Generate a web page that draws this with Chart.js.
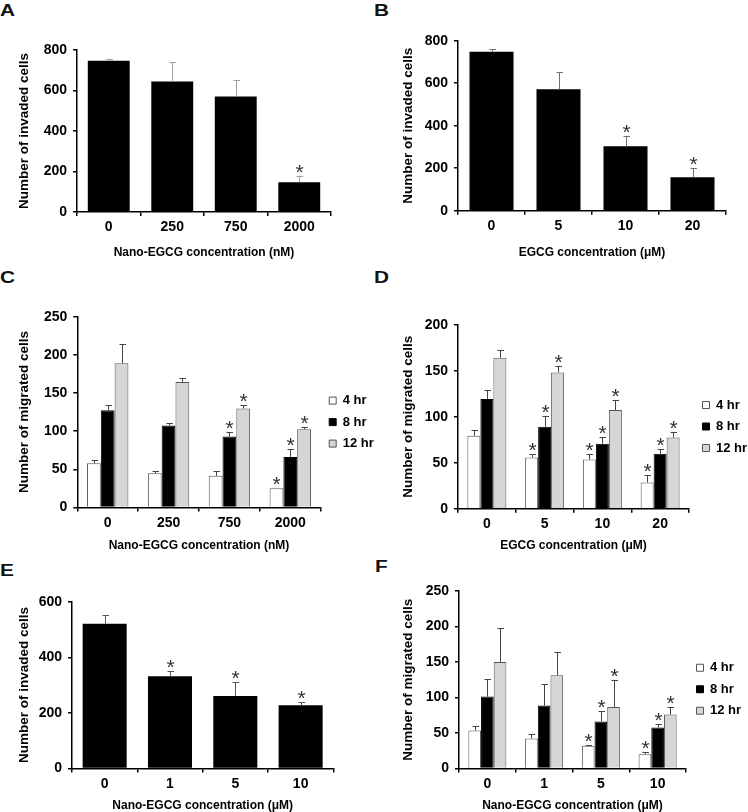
<!DOCTYPE html>
<html><head><meta charset="utf-8">
<script src="https://cdn.jsdelivr.net/npm/chart.js@4"></script>
<style>
html,body{margin:0;padding:0;width:748px;height:812px;overflow:hidden;background:#fff;}
canvas{position:absolute;}
.lab{position:absolute;font-family:"Liberation Sans",Arial,sans-serif;font-weight:bold;font-size:16px;line-height:16px;color:#111;transform:scaleX(1.3);transform-origin:0 0;}
</style></head><body>
<div class="lab" style="left:0px;top:3px">A</div>
<div class="lab" style="left:374px;top:3px">B</div>
<div class="lab" style="left:0px;top:269.5px">C</div>
<div class="lab" style="left:374px;top:269.5px">D</div>
<div class="lab" style="left:0px;top:563px">E</div>
<div class="lab" style="left:375px;top:558.5px">F</div>
<canvas id="cA"></canvas>
<canvas id="cB"></canvas>
<canvas id="cC"></canvas>
<canvas id="cD"></canvas>
<canvas id="cE"></canvas>
<canvas id="cF"></canvas>
<script>
// ---------------- data ----------------
const seriesNames = ['4 hr', '8 hr', '12 hr'];

// Panel A
const catsA = ['0', '250', '750', '2000'];
const valsA = [747, 645, 570, 147];
const errA  = [10, 94, 80, 29];
const sigA  = [0, 0, 0, 1];
const yTicksA = [0, 200, 400, 600, 800];

// Panel B
const catsB = ['0', '5', '10', '20'];
const valsB = [748, 571, 303, 157];
const errB  = [11, 82, 47, 43];
const sigB  = [0, 0, 1, 1];
const yTicksB = [0, 200, 400, 600, 800];

// Panel C
const catsC = ['0', '250', '750', '2000'];
const c4  = [58, 45, 41.5, 25.3];
const c4Err = [4, 2.7, 6.2, 0];
const c4Sig = [0, 0, 0, 1];
const c8  = [127.4, 107.3, 92.9, 66.3];
const c8Err = [7.4, 3.5, 5.7, 10.5];
const c8Sig = [0, 0, 1, 1];
const c12 = [188.9, 164.5, 129.6, 102.5];
const c12Err = [25.8, 5.7, 5.2, 3.5];
const c12Sig = [0, 0, 1, 1];
const yTicksC = [0, 50, 100, 150, 200, 250];

// Panel D
const catsD = ['0', '5', '10', '20'];
const d4  = [79.3, 55.8, 53.6, 28.6];
const d4Err = [5.8, 3.6, 6.2, 7.6];
const d4Sig = [0, 1, 1, 1];
const d8  = [119.2, 89.1, 70.7, 59.8];
const d8Err = [9.4, 12, 7.6, 4.7];
const d8Sig = [0, 1, 1, 1];
const d12 = [164.1, 148.2, 107.2, 77.5];
const d12Err = [8, 6.9, 10.6, 6.2];
const d12Sig = [0, 1, 1, 1];
const yTicksD = [0, 50, 100, 150, 200];

// Panel E
const catsE = ['0', '1', '5', '10'];
const valsE = [521, 332, 261, 227.5];
const errE  = [31, 18, 49, 12];
const sigE  = [0, 1, 1, 1];
const yTicksE = [0, 200, 400, 600];

// Panel F
const catsF = ['0', '1', '5', '10'];
const f4  = [53.4, 42.2, 31.9, 20.2];
const f4Err = [6.1, 6.6, 0.9, 3.7];
const f4Sig = [0, 0, 1, 1];
const f8  = [101.3, 88.6, 66.1, 57.7];
const f8Err = [24.3, 30, 15.5, 5.1];
const f8Sig = [0, 0, 1, 1];
const f12 = [150, 131.3, 86.7, 75.9];
const f12Err = [47.4, 32.3, 38.5, 10.4];
const f12Sig = [0, 0, 1, 1];
const yTicksF = [0, 50, 100, 150, 200, 250];

const yInvaded = 'Number of invaded cells';
const yMigrated = 'Number of migrated cells';

// ---------------- styling / helpers ----------------
const FONT = '"Liberation Sans", Arial, Helvetica, sans-serif';
const FILL = ['#ffffff', '#000000', '#d6d6d6'];
const EDGE = ['#555555', '#000000', '#555555'];

function single(vals, err, sig) {
  return [{label: 'cells', data: vals, errors: err, sig: sig, yAxisID: 'y',
           backgroundColor: '#000', borderColor: '#000', borderWidth: 0}];
}
function triple(v4, e4, s4, v8, e8, s8, v12, e12, s12) {
  const v = [v4, v8, v12], e = [e4, e8, e12], s = [s4, s8, s12];
  return seriesNames.map((n, i) => ({label: n, data: v[i], errors: e[i], sig: s[i], yAxisID: 'y',
    backgroundColor: FILL[i], borderColor: EDGE[i], borderWidth: 1, borderSkipped: 'start'}));
}

const errPlugin = {
  id: 'errbars',
  afterDatasetsDraw(chart, args, opts) {
    const ctx = chart.ctx, ys = chart.scales.y;
    chart.data.datasets.forEach((ds, i) => {
      const meta = chart.getDatasetMeta(i);
      meta.data.forEach((bar, j) => {
        const e = (ds.errors || [])[j] || 0;
        const topPx = ys.getPixelForValue(ds.data[j] + e);
        const x = Math.round(bar.x) + 0.5;
        ctx.save();
        ctx.strokeStyle = opts.color;
        ctx.lineWidth = 1;
        if (e > 0) {
          const yt = Math.round(topPx) + 0.5;
          ctx.beginPath();
          ctx.moveTo(x, bar.y);
          ctx.lineTo(x, yt);
          ctx.moveTo(x - 3, yt);
          ctx.lineTo(x + 3.5, yt);
          ctx.stroke();
        }
        if (ds.sig && ds.sig[j]) {
          ctx.fillStyle = '#333';
          ctx.font = '21px ' + FONT;
          ctx.textAlign = 'center';
          ctx.textBaseline = 'alphabetic';
          ctx.fillText('*', x, topPx + 3);
        }
        ctx.restore();
      });
    });
  }
};

function buildPanel(p) {
  const cv = document.getElementById(p.id);
  cv.width = p.box.w; cv.height = p.box.h;
  cv.style.left = p.box.x + 'px'; cv.style.top = p.box.y + 'px';
  const yTitleSize = 13.5;
  const L = p.yTitleX - p.box.x - yTitleSize * 1.2 / 2;
  const hasLegend = p.datasets.length > 1;
  const gap = p.legendGap || 0;
  const rightPad = hasLegend ? 0 : p.box.x + p.box.w - p.area.r;
  const tickFont = {family: FONT, size: 14, weight: 'bold'};
  const scales = {
    x: {
      grid: {display: true, offset: true, drawOnChartArea: false, drawTicks: true, tickLength: 4, color: '#000', lineWidth: 1.5},
      border: {display: true, color: '#000', width: 1.5},
      ticks: {font: tickFont, color: '#000', padding: 3, maxRotation: 0, autoSkip: false},
      title: {display: true, text: p.xTitle, color: '#000', padding: 0,
              font: {family: FONT, size: 12, weight: 'bold'}},
      afterFit: s => { s.height = p.box.y + p.box.h - p.area.b; }
    },
    y: {
      min: 0, max: p.yTicks[p.yTicks.length - 1],
      afterBuildTicks: s => { s.ticks = p.yTicks.map(v => ({value: v})); },
      grid: {display: true, drawOnChartArea: false, drawTicks: true, tickLength: 4, color: '#000', lineWidth: 1.5},
      border: {display: true, color: '#000', width: 1.5},
      ticks: {font: tickFont, color: '#000', padding: 6},
      title: {display: true, text: p.yTitle, color: '#000', padding: 0,
              font: {family: FONT, size: yTitleSize, weight: 'bold'}},
      afterFit: s => { s.width = p.area.l - p.box.x - L; }
    }
  };
  if (hasLegend && gap > 0) {
    // empty spacer box between the plot and the legend
    scales.spacer = {type: 'linear', position: 'right', display: true,
      grid: {display: false}, border: {display: false}, ticks: {display: false},
      afterFit: s => { s.width = gap; }};
  }
  return new Chart(cv, {
    type: 'bar',
    data: {labels: p.labels, datasets: p.datasets},
    options: {
      responsive: false, animation: false, devicePixelRatio: 1,
      layout: {padding: {left: L, top: p.area.t - p.box.y, right: rightPad, bottom: 0}},
      datasets: {bar: {categoryPercentage: p.catPct, barPercentage: p.barPct}},
      plugins: {
        legend: hasLegend ? {
          display: true, position: 'right', align: 'center', fullSize: false,
          maxWidth: p.box.x + p.box.w - p.area.r - gap,
          title: {display: true, text: '', padding: {top: p.legendShift, bottom: 0}, font: {size: 1, lineHeight: 1}},
          labels: {boxWidth: 7, boxHeight: 7, padding: 8.5, color: '#000',
                   font: {family: FONT, size: 13, weight: 'bold'}}
        } : {display: false},
        tooltip: {enabled: false},
        errbars: {color: p.errColor}
      },
      scales: scales
    },
    plugins: [errPlugin]
  });
}

buildPanel({id: 'cA', box: {x: 0, y: 20, w: 374, h: 240}, area: {l: 77, t: 50, r: 331, b: 212},
  yTitleX: 24.3, labels: catsA, datasets: single(valsA, errA, sigA), yTicks: yTicksA,
  yTitle: yInvaded, xTitle: 'Nano-EGCG concentration (nM)', catPct: 1, barPct: 0.66, errColor: '#a0a0a0'});
buildPanel({id: 'cB', box: {x: 374, y: 20, w: 374, h: 240}, area: {l: 458, t: 40.7, r: 726, b: 210.7},
  yTitleX: 408.3, labels: catsB, datasets: single(valsB, errB, sigB), yTicks: yTicksB,
  yTitle: yInvaded, xTitle: 'EGCG concentration (\u03bcM)', catPct: 1, barPct: 0.657, errColor: '#707070'});
buildPanel({id: 'cC', box: {x: 0, y: 280, w: 382, h: 273.2}, area: {l: 77.3, t: 316.7, r: 320.7, b: 507.7},
  yTitleX: 24.3, labels: catsC, datasets: triple(c4, c4Err, c4Sig, c8, c8Err, c8Sig, c12, c12Err, c12Sig),
  yTicks: yTicksC, yTitle: yMigrated, xTitle: 'Nano-EGCG concentration (nM)', catPct: 0.68, barPct: 1,
  errColor: '#444', legendGap: 0, legendShift: 19});
buildPanel({id: 'cD', box: {x: 374, y: 290, w: 374, h: 263.2}, area: {l: 458, t: 324.7, r: 689, b: 509},
  yTitleX: 408.3, labels: catsD, datasets: triple(d4, d4Err, d4Sig, d8, d8Err, d8Sig, d12, d12Err, d12Sig),
  yTicks: yTicksD, yTitle: yMigrated, xTitle: 'EGCG concentration (\u03bcM)', catPct: 0.675, barPct: 1,
  errColor: '#444', legendGap: 5, legendShift: 18.5});
buildPanel({id: 'cE', box: {x: 0, y: 570, w: 374, h: 243.2}, area: {l: 72, t: 601.7, r: 333.3, b: 768.7},
  yTitleX: 24.3, labels: catsE, datasets: single(valsE, errE, sigE), yTicks: yTicksE,
  yTitle: yInvaded, xTitle: 'Nano-EGCG concentration (\u03bcM)', catPct: 1, barPct: 0.674, errColor: '#555'});
buildPanel({id: 'cF', box: {x: 374, y: 560, w: 374, h: 253.2}, area: {l: 459, t: 591, r: 686, b: 768.7},
  yTitleX: 408.3, labels: catsF, datasets: triple(f4, f4Err, f4Sig, f8, f8Err, f8Sig, f12, f12Err, f12Sig),
  yTicks: yTicksF, yTitle: yMigrated, xTitle: 'Nano-EGCG concentration (\u03bcM)', catPct: 0.67, barPct: 1,
  errColor: '#444', legendGap: 2, legendShift: 18});
</script>
</body></html>
